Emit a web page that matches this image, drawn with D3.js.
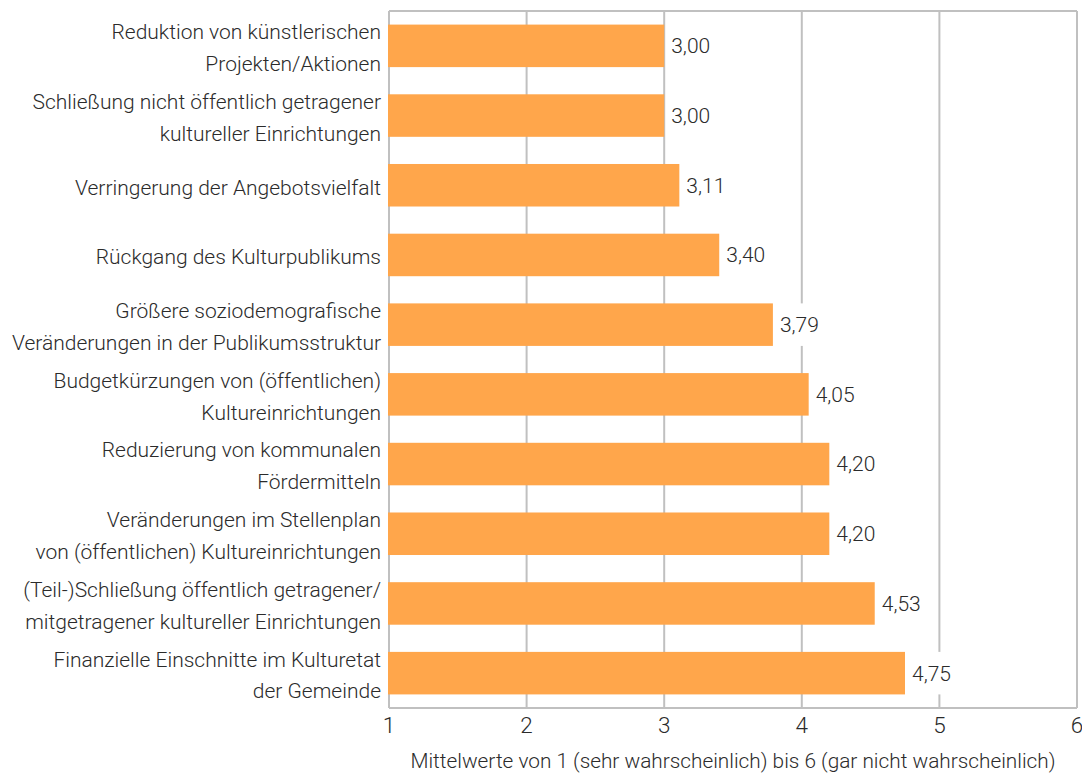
<!DOCTYPE html>
<html>
<head>
<meta charset="utf-8">
<script src="https://cdn.jsdelivr.net/npm/d3@7"></script>
<style>
  html, body { margin: 0; padding: 0; background: #fff; }
  svg { display: block; }
  text { font-family: Roboto, "Liberation Sans", sans-serif; font-weight: 300; fill: #2b2b2b; }
</style>
</head>
<body>
<svg id="chart" width="1082" height="774"></svg>
<script>
// Category labels (two lines where the label wraps)
const categories = [
  ["Reduktion von künstlerischen", "Projekten/Aktionen"],
  ["Schließung nicht öffentlich getragener", "kultureller Einrichtungen"],
  ["Verringerung der Angebotsvielfalt"],
  ["Rückgang des Kulturpublikums"],
  ["Größere soziodemografische", "Veränderungen in der Publikumsstruktur"],
  ["Budgetkürzungen von (öffentlichen)", "Kultureinrichtungen"],
  ["Reduzierung von kommunalen", "Fördermitteln"],
  ["Veränderungen im Stellenplan", "von (öffentlichen) Kultureinrichtungen"],
  ["(Teil-)Schließung öffentlich getragener/", "mitgetragener kultureller Einrichtungen"],
  ["Finanzielle Einschnitte im Kulturetat", "der Gemeinde"]
];
const values = [3.00, 3.00, 3.11, 3.40, 3.79, 4.05, 4.20, 4.20, 4.53, 4.75];
const xTicks = [1, 2, 3, 4, 5, 6];
const axisTitle = "Mittelwerte von 1 (sehr wahrscheinlich) bis 6 (gar nicht wahrscheinlich)";

const svg = d3.select("#chart");
const plot = { left: 389, right: 1077, top: 11, bottom: 708 };

const x = d3.scaleLinear().domain([1, 6]).range([plot.left, plot.right]);
const y = d3.scaleBand()
  .domain(d3.range(categories.length))
  .range([plot.top, plot.bottom])
  .paddingInner(0.39)
  .paddingOuter(0.195);

const gridColor = "#c0c0c0";

// vertical grid lines
svg.append("g")
  .selectAll("line")
  .data(xTicks)
  .join("line")
  .attr("x1", d => x(d)).attr("x2", d => x(d))
  .attr("y1", plot.top).attr("y2", plot.bottom)
  .attr("stroke", gridColor).attr("stroke-width", 2);

// frame top and bottom
svg.append("line")
  .attr("x1", plot.left).attr("x2", plot.right)
  .attr("y1", plot.top).attr("y2", plot.top)
  .attr("stroke", gridColor).attr("stroke-width", 2);
svg.append("line")
  .attr("x1", plot.left).attr("x2", plot.right)
  .attr("y1", plot.bottom).attr("y2", plot.bottom)
  .attr("stroke", gridColor).attr("stroke-width", 2);

// bars
svg.append("g")
  .selectAll("rect")
  .data(values)
  .join("rect")
  .attr("x", x(1) - 1)
  .attr("y", (d, i) => y(i))
  .attr("width", d => x(d) - x(1) + 1)
  .attr("height", y.bandwidth())
  .attr("fill", "#ffa64b");

// value labels with white backing the height of the bar
const fmt = v => d3.format(".2f")(v).replace(".", ",");
const vl = svg.append("g").selectAll("g")
  .data(values)
  .join("g")
  .attr("transform", (d, i) => `translate(${x(d) + 7},${y(i) + y.bandwidth() / 2})`);
vl.append("rect").attr("fill", "#fff");
const vt = vl.append("text")
  .attr("dy", "0.35em")
  .style("font-size", "21px")
  .text(fmt);
vt.each(function () {
  const w = this.getComputedTextLength();
  d3.select(this.parentNode).select("rect")
    .attr("x", -3).attr("width", w + 6)
    .attr("y", -y.bandwidth() / 2).attr("height", y.bandwidth());
});

// category labels
const cl = svg.append("g").selectAll("g")
  .data(categories)
  .join("g")
  .attr("transform", (d, i) => `translate(${plot.left - 8},${y(i) + y.bandwidth() / 2 + 2})`);
cl.each(function (lines) {
  const g = d3.select(this);
  const lh = 32;
  const start = -(lines.length - 1) * lh / 2;
  lines.forEach((t, k) => {
    g.append("text")
      .attr("text-anchor", "end")
      .attr("y", start + k * lh)
      .attr("dy", "0.35em")
      .style("font-size", "21px")
      .text(t);
  });
});

// x tick labels
svg.append("g").selectAll("text")
  .data(xTicks)
  .join("text")
  .attr("x", d => x(d))
  .attr("y", 733)
  .attr("text-anchor", "middle")
  .style("font-size", "22.5px")
  .text(d => d);

// axis title
svg.append("text")
  .attr("x", (plot.left + plot.right) / 2)
  .attr("y", 768)
  .attr("text-anchor", "middle")
  .style("font-size", "20.8px")
  .text(axisTitle);
</script>
</body>
</html>
